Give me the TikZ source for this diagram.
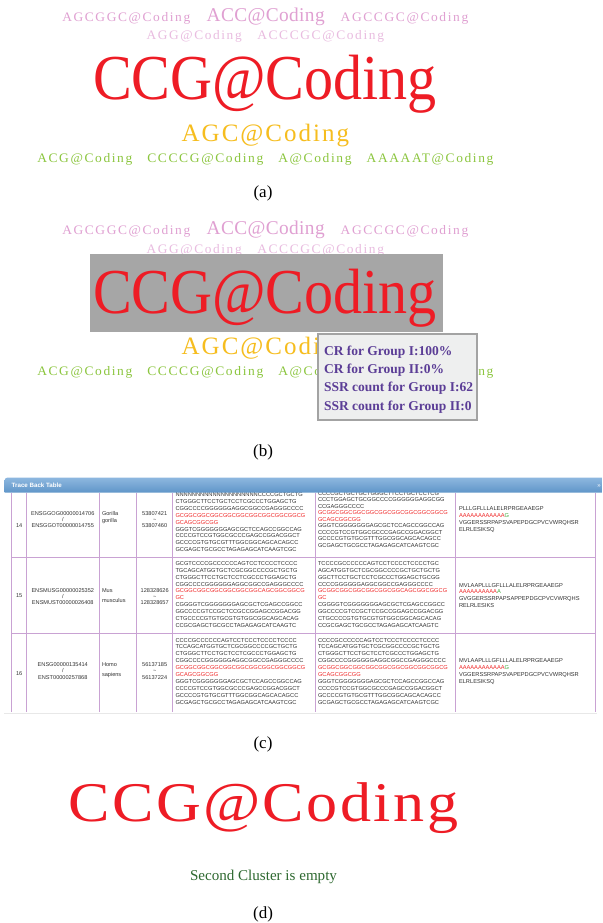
\documentclass[tikz,border=0pt]{standalone}
\usepackage{fontspec}
\usepackage{graphicx}
\setmainfont{Liberation Serif}
\newfontfamily\sansf{Liberation Sans}
\definecolor{pinkA}{HTML}{E0A0D2}
\definecolor{pinkB}{HTML}{E9BCE0}
\definecolor{ccgred}{HTML}{EE1C25}
\definecolor{agcyel}{HTML}{F6BD1E}
\definecolor{lgreen}{HTML}{8CC63F}
\definecolor{dgreen}{HTML}{2E6930}
\definecolor{boxgray}{HTML}{A6A6A6}
\definecolor{tipbg}{HTML}{EEEFEF}
\definecolor{tipborder}{HTML}{A3A3A3}
\definecolor{tippurple}{HTML}{5B3D96}
\definecolor{gridlilac}{HTML}{C9A2D3}
\definecolor{hdrtop}{HTML}{8DB7DF}
\definecolor{hdrbot}{HTML}{5F95C8}
\definecolor{seqtext}{HTML}{333333}
\definecolor{seqred}{HTML}{F02828}
\definecolor{seqgreen}{HTML}{3DAA3D}
\newcommand\fitw[2]{\resizebox{#1pt}{\height}{#2}}
\newcommand\tk[2]{\fontsize{#1}{#1}\selectfont\addfontfeatures{LetterSpace=#2}}
\newcommand\seqlines[5]{%
  \foreach \q [count=\idx] in {#5} {\node[seq] (#1-\idx) at ({#2},{#3+(\idx-1)*#4}) {\q};}}
\newcommand\celllines[6]{%
  \foreach \q [count=\idx] in {#6} {\node[#2] (#1-\idx) at ({#3},{#4+(\idx-1)*#5}) {\q};}}
\newcommand\cloudtop[2]{%
  \begin{scope}[shift={(0,#2)}]
    \node[wc, text=pinkA, font=\tk{13}{12}] (#1-agcggc) at (62.3,21.7) {\fitw{128}{AGCGGC@Coding}};
    \node[wc, text=pinkA, font=\tk{19.5}{2}] (#1-acc) at (206.7,21.7) {\fitw{118}{ACC@Coding}};
    \node[wc, text=pinkA, font=\tk{13}{12}] (#1-agccgc) at (340.7,21.7) {\fitw{127.6}{AGCCGC@Coding}};
    \node[wc, text=pinkB, font=\tk{13}{12}] (#1-agg) at (146.7,40) {\fitw{95}{AGG@Coding}};
    \node[wc, text=pinkB, font=\tk{13}{12}] (#1-acccgc) at (257.3,40) {\fitw{126.7}{ACCCGC@Coding}};
  \end{scope}}
\newcommand\cloudbottom[2]{%
  \begin{scope}[shift={(0,#2)}]
    \node[wc, text=ccgred, font=\tk{64}{0}] (#1-ccg) at (93,100) {\fitw{344}{CCG@Coding}};
    \node[wc, text=agcyel, font=\tk{25}{8}] (#1-agc) at (181.7,141.7) {\fitw{167.3}{AGC@Coding}};
    \node[wc, text=lgreen, font=\tk{13}{12}] (#1-acg) at (37.3,162.7) {\fitw{95}{ACG@Coding}};
    \node[wc, text=lgreen, font=\tk{13}{12}] (#1-ccccg) at (147.3,162.7) {\fitw{116}{CCCCG@Coding}};
    \node[wc, text=lgreen, font=\tk{13}{12}] (#1-a) at (278.3,162.7) {\fitw{73.3}{A@Coding}};
    \node[wc, text=lgreen, font=\tk{13}{12}] (#1-aaaaat) at (366.7,162.7) {\fitw{126.7}{AAAAAT@Coding}};
  \end{scope}}
\begin{document}
\begin{tikzpicture}[x=1pt,y=-1pt,
  every node/.style={inner sep=0pt,outer sep=0pt},
  wc/.style={anchor=base west},
  lbl/.style={anchor=base, font=\fontsize{17}{17}\selectfont, text=black},
  seq/.style={anchor=base west, font=\sansf\fontsize{5.7}{5.7}\selectfont, text=seqtext},
  cellc/.style={anchor=base, font=\sansf\fontsize{5.6}{5.6}\selectfont, text=seqtext},
  celll/.style={anchor=base west, font=\sansf\fontsize{5.6}{5.6}\selectfont, text=seqtext},
  grid/.style={draw=gridlilac, line width=0.7pt},
  tip/.style={anchor=base west, font=\bfseries\fontsize{13.5}{13.5}\selectfont, text=tippurple}]
\useasboundingbox[fill=white] (0,0) rectangle (602,923);

% ---------- (a)
\cloudtop{a}{0}
\cloudbottom{a}{0}
\node[lbl] (lbl-a) at (263,197) {(a)};

% ---------- (b)
\cloudtop{b}{213}
\fill[boxgray] (90,254) rectangle (443,331.7);
\cloudbottom{b}{213}
\draw[draw=tipborder, fill=tipbg, line width=1.3pt] (318,334) rectangle (477,420);
\node[tip] (tip-1) at (324,355) {CR for Group I:100\%};
\node[tip] (tip-2) at (324,373.3) {CR for Group II:0\%};
\node[tip] (tip-3) at (324,391.7) {SSR count for Group I:62};
\node[tip] (tip-4) at (324,410) {SSR count for Group II:0};
\node[lbl] (lbl-b) at (263,456) {(b)};

% ---------- (c) table
\foreach \xx in {11.7,26.7,99,136.7,172.7,315,455.7,595.7}
  \draw[grid] (\xx,492.7) -- (\xx,711.7);
\foreach \yy in {557.3,633.3}
  \draw[grid] (11.7,\yy) -- (595.7,\yy);
\draw[gray!18, line width=1pt] (4,713) -- (597,713);

% row 14
\node[cellc] (r14-n) at (19.2,527) {14};
\celllines{r14-id}{cellc}{62.8}{515.3}{6.3}{ENSGGOG00000014706,/,ENSGGOT00000014755}
\celllines{r14-sp}{celll}{102}{515.5}{6.8}{Gorilla,gorilla}
\celllines{r14-loc}{cellc}{154.7}{515.3}{6.3}{53807421,\textasciitilde,53807460}
\seqlines{r14-s1}{175.5}{496.5}{6.9}{NNNNNNNNNNNNNNNNNNNNCCCCGCTGCTG,CTGGGCTTCCTGCTCCTCGCCCTGGAGCTG,CGGCCCCGGGGGGAGGCGGCCGAGGGCCCC,{\color{seqred}GCGGCGGCGGCGGCGGCGGCGGCGGCGGCG},{\color{seqred}GCAGCGGCGG},GGGTCGGGGGGGAGCGCTCCAGCCGGCCAG,CCCCGTCCGTGGCGCCCGAGCCGGACGGCT,GCCCCGTGTGCGTTTGGCGGCAGCACAGCC,GCGAGCTGCGCCTAGAGAGCATCAAGTCGC}
\seqlines{r14-s2}{318}{495.3}{6.5}{CCCCGCTGCTGCTGGGCTTCCTGCTCCTCG,CCCTGGAGCTGCGGCCCCGGGGGGAGGCGG,CCGAGGGCCCC,{\color{seqred}GCGGCGGCGGCGGCGGCGGCGGCGGCGGCG},{\color{seqred}GCAGCGGCGG},GGGTCGGGGGGGAGCGCTCCAGCCGGCCAG,CCCCGTCCGTGGCGCCCGAGCCGGACGGCT,GCCCCGTGTGCGTTTGGCGGCAGCACAGCC,GCGAGCTGCGCCTAGAGAGCATCAAGTCGC}
\seqlines{r14-p}{459}{510.3}{6.9}{PLLLGFLLLALELRPRGEAAEGP,{\color{seqred}AAAAAAAAAAAA\color{seqgreen}G},VGGERSSRPAPSVAPEPDGCPVCVWRQHSR,ELRLESIKSQ}

% row 15
\node[cellc] (r15-n) at (19.2,597) {15};
\celllines{r15-id}{cellc}{62.8}{592}{6.2}{ENSMUSG00000025352,/,ENSMUST00000026408}
\celllines{r15-sp}{celll}{102}{592.5}{9.5}{Mus,musculus}
\celllines{r15-loc}{cellc}{154.7}{592}{6.2}{128328626,\textasciitilde,128328657}
\seqlines{r15-s1}{175.5}{565.3}{6.9}{GCGTCCCCGCCCCCCAGTCCTCCCCTCCCC,TGCAGCATGGTGCTCGCGGCCCCGCTGCTG,CTGGGCTTCCTGCTCCTCGCCCTGGAGCTG,CGGCCCCGGGGGGAGGCGGCCGAGGGCCCC,{\color{seqred}GCGGCGGCGGCGGCGGCGGCAGCGGCGGCG},{\color{seqred}GC},CGGGGTCGGGGGGGAGCGCTCGAGCCGGCC,GGCCCCGTCCGCTCCGCCGGAGCCGGACGG,CTGCCCCGTGTGCGTGTGGCGGCAGCACAG,CCGCGAGCTGCGCCTAGAGAGCATCAAGTC}
\seqlines{r15-s2}{318}{565.3}{6.9}{TCCCCGCCCCCCAGTCCTCCCCTCCCCTGC,AGCATGGTGCTCGCGGCCCCGCTGCTGCTG,GGCTTCCTGCTCCTCGCCCTGGAGCTGCGG,CCCCGGGGGGAGGCGGCCGAGGGCCCC,{\color{seqred}GCGGCGGCGGCGGCGGCGGCAGCGGCGGCG},{\color{seqred}GC},CGGGGTCGGGGGGGAGCGCTCGAGCCGGCC,GGCCCCGTCCGCTCCGCCGGAGCCGGACGG,CTGCCCCGTGTGCGTGTGGCGGCAGCACAG,CCGCGAGCTGCGCCTAGAGAGCATCAAGTC}
\seqlines{r15-p}{459}{587}{6.7}{MVLAAPLLLGFLLLALELRPRGEAAEGP,{\color{seqred}AAAAAAAAAA\color{seqgreen}A},GVGGERSSRPAPSAPPEPDGCPVCVWRQHS,RELRLESIKS}

% row 16
\node[cellc] (r16-n) at (19.2,675.3) {16};
\celllines{r16-id}{cellc}{62.8}{666.3}{6.5}{ENSG00000135414,/,ENST00000257868}
\celllines{r16-sp}{celll}{102}{666.3}{10.5}{Homo,sapiens}
\celllines{r16-loc}{cellc}{154.7}{666.3}{6.5}{56137185,\textasciitilde,56137224}
\seqlines{r16-s1}{175.5}{642}{6.92}{CCCCGCCCCCCAGTCCTCCCTCCCCTCCCC,TCCAGCATGGTGCTCGCGGCCCCGCTGCTG,CTGGGCTTCCTGCTCCTCGCCCTGGAGCTG,CGGCCCCGGGGGGAGGCGGCCGAGGGCCCC,{\color{seqred}GCGGCGGCGGCGGCGGCGGCGGCGGCGGCG},{\color{seqred}GCAGCGGCGG},GGGTCGGGGGGGAGCGCTCCAGCCGGCCAG,CCCCGTCCGTGGCGCCCGAGCCGGACGGCT,GCCCCGTGTGCGTTTGGCGGCAGCACAGCC,GCGAGCTGCGCCTAGAGAGCATCAAGTCGC}
\seqlines{r16-s2}{318}{642}{6.92}{CCCCGCCCCCCAGTCCTCCCTCCCCTCCCC,TCCAGCATGGTGCTCGCGGCCCCGCTGCTG,CTGGGCTTCCTGCTCCTCGCCCTGGAGCTG,CGGCCCCGGGGGGAGGCGGCCGAGGGCCCC,{\color{seqred}GCGGCGGCGGCGGCGGCGGCGGCGGCGGCG},{\color{seqred}GCAGCGGCGG},GGGTCGGGGGGGAGCGCTCCAGCCGGCCAG,CCCCGTCCGTGGCGCCCGAGCCGGACGGCT,GCCCCGTGTGCGTTTGGCGGCAGCACAGCC,GCGAGCTGCGCCTAGAGAGCATCAAGTCGC}
\seqlines{r16-p}{459}{662}{7}{MVLAAPLLLGFLLLALELRPRGEAAEGP,{\color{seqred}AAAAAAAAAAAA\color{seqgreen}G},VGGERSSRPAPSVAPEPDGCPVCVWRQHSR,ELRLESIKSQ}

% header bar (drawn over the scrolled table)
\shade[top color=hdrtop, bottom color=hdrbot] (4.7,492.7) [rounded corners=2.5pt] -- (4.7,477.7) [sharp corners] -- (602,477.7) -- (602,492.7) -- cycle;
\node[anchor=base west, font=\sansf\bfseries\fontsize{6.2}{6.2}\selectfont, text=white] (hdr) at (11.7,487.2) {Trace Back Table};
\node[anchor=base, font=\sansf\fontsize{6}{6}\selectfont, text=white] (hdr-arrow) at (599,487.2) {»};
\node[lbl] (lbl-c) at (263,748) {(c)};

% ---------- (d)
\node[wc, text=ccgred, font=\tk{56}{4}] (d-ccg) at (68.3,821) {\fitw{390}{CCG@Coding}};
\node[wc, text=dgreen, font=\fontsize{15}{15}\selectfont] (d-empty) at (190,880) {\fitw{147}{Second Cluster is empty}};
\node[lbl] (lbl-d) at (263,918) {(d)};
\end{tikzpicture}
\end{document}
